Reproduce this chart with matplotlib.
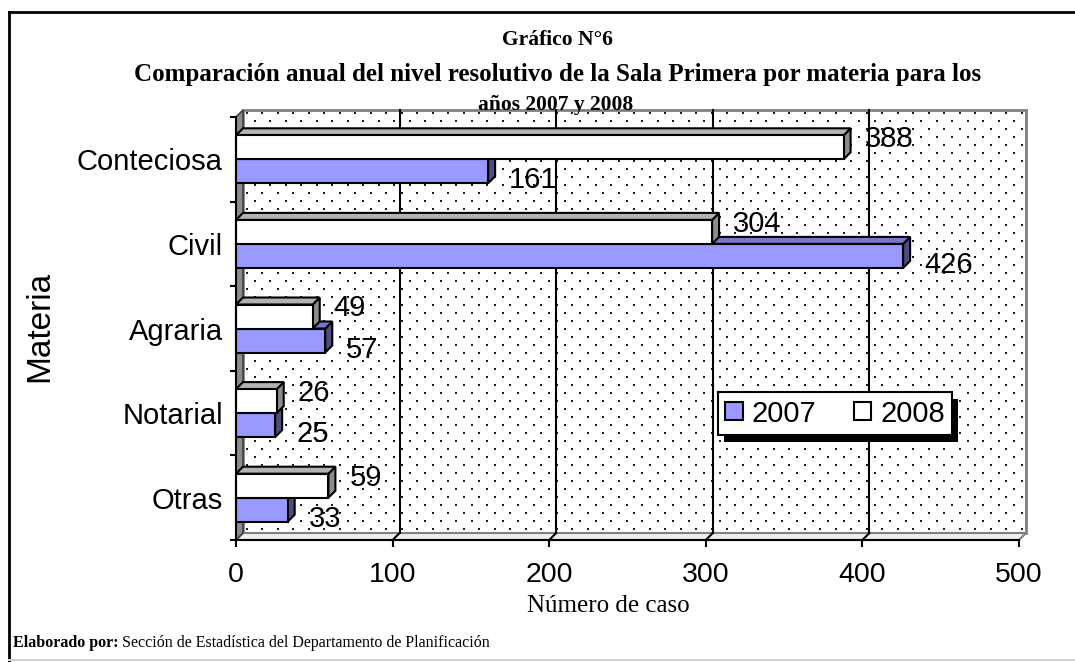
import matplotlib
matplotlib.use('Agg')
import numpy as np
import matplotlib.pyplot as plt
from matplotlib.patches import Polygon, Rectangle, Patch
from matplotlib.lines import Line2D

categories = ['Otras', 'Notarial', 'Agraria', 'Civil', 'Conteciosa']
values_2007 = [33, 25, 57, 426, 161]
values_2008 = [59, 26, 49, 304, 388]
series_names = ['2007', '2008']
x_ticks = [0, 100, 200, 300, 400, 500]

SANS = 'Liberation Sans'
SERIF = 'Liberation Serif'
plt.rcParams['font.family'] = SANS

W, H = 1075, 662
fig = plt.figure(figsize=(W / 100, H / 100), dpi=100)
fig.patch.set_facecolor('white')

L, R, B, T = 236, 1019, 540, 117
n = len(categories)
ax = fig.add_axes([L / W, 1 - B / H, (R - L) / W, (B - T) / H])
ax.set_xlim(0, 500)
ax.set_ylim(-0.5, n - 0.5)
ax.patch.set_visible(False)

ppx = (R - L) / 500.0
ppy = (B - T) / n
DEPTH = 7
dx = DEPTH / ppx
dy = DEPTH / ppy
bar_h = 24 / ppy

ymin, ymax = -0.5, n - 0.5
# back wall with dotted pattern
ax.add_patch(Rectangle((dx, ymin + dy), 500, n, facecolor='white', edgecolor='none',
                       zorder=1, clip_on=False))
sx, sy = 15.5 / ppx, 8.0 / ppy
rows = np.arange(ymin + dy + sy / 2, ymax + dy, sy)
px, py = [], []
for k, yy in enumerate(rows):
    xs = np.arange(dx + (sx / 2 if k % 2 else 0) + sx / 4, 500 + dx, sx)
    px.extend(xs)
    py.extend([yy] * len(xs))
ax.scatter(px, py, s=1.6, marker='s', color='#1a1a1a', lw=0, zorder=1.2, clip_on=False)
ax.add_patch(Rectangle((dx, ymin + dy), 500, n, facecolor='none', edgecolor='#808080',
                       lw=2, zorder=1.5, clip_on=False))
# floor
floor = [(0, ymin), (500, ymin), (500 + dx, ymin + dy), (dx, ymin + dy)]
ax.add_patch(Polygon(floor, closed=True, facecolor='#eeeeee', edgecolor='#808080', lw=1.5,
                     zorder=1.6, clip_on=False))
# gridlines
for xv in x_ticks[1:-1]:
    ax.add_line(Line2D([xv + dx, xv + dx], [ymin + dy, ymax + dy], color='black', lw=1.5,
                       zorder=2, clip_on=False))
    ax.add_line(Line2D([xv, xv + dx], [ymin, ymin + dy], color='black', lw=1.5,
                       zorder=2, clip_on=False))
# left wall
lw_poly = [(0, ymin), (dx, ymin + dy), (dx, ymax + dy), (0, ymax)]
ax.add_patch(Polygon(lw_poly, closed=True, facecolor='#8c8c8c', edgecolor='#404040', lw=1.2,
                     zorder=2.2, clip_on=False))


def bar3d(y0, v, front, top, side, z):
    kw = dict(edgecolor='black', lw=1.5, clip_on=False, zorder=z, joinstyle='miter')
    ax.add_patch(Polygon([(v, y0), (v + dx, y0 + dy), (v + dx, y0 + bar_h + dy), (v, y0 + bar_h)],
                         closed=True, facecolor=side, **kw))
    ax.add_patch(Polygon([(0, y0 + bar_h), (v, y0 + bar_h), (v + dx, y0 + bar_h + dy), (dx, y0 + bar_h + dy)],
                         closed=True, facecolor=top, **kw))
    ax.add_patch(Rectangle((0, y0), v, bar_h, facecolor=front, **kw))


PT = 72 / 100.0
for i in range(n):
    v7, v8 = values_2007[i], values_2008[i]
    bar3d(i - bar_h, v7, '#9999ff', '#7777cc', '#4d4d80', 3)
    bar3d(i, v8, 'white', '#b3b3b3', '#8c8c8c', 4)
    ax.annotate(str(v8), xy=(v8 + dx, i + bar_h / 2), xytext=(14 * PT, 8 * PT),
                textcoords='offset points', ha='left', va='center', fontsize=21, zorder=6)
    ax.annotate(str(v7), xy=(v7 + dx, i - bar_h / 2), xytext=(14 * PT, -9 * PT),
                textcoords='offset points', ha='left', va='center', fontsize=21, zorder=6)

# axes
for s in ['top', 'right']:
    ax.spines[s].set_visible(False)
for s in ['left', 'bottom']:
    ax.spines[s].set_linewidth(1.5)
    ax.spines[s].set_zorder(8)
ax.set_xticks(x_ticks)
ax.set_xticklabels([str(t) for t in x_ticks], fontsize=20.5)
ax.tick_params(axis='x', direction='out', length=5, width=1.5, pad=11)
ax.set_yticks(range(n))
ax.set_yticklabels(categories, fontsize=21)
ax.tick_params(axis='y', length=0, pad=9.5)
ax.set_yticks([k - 0.5 for k in range(n + 1)], minor=True)
ax.tick_params(axis='y', which='minor', length=4, width=1.5, direction='out')

# titles
fig.text(557 / W, 1 - 40 / H, 'Gráfico N°6', ha='center', va='center', family=SERIF,
         fontweight='bold', fontsize=15.5)
fig.text(558 / W, 1 - 74 / H,
         'Comparación anual del nivel resolutivo de la Sala Primera por materia para los',
         ha='center', va='center', family=SERIF, fontweight='bold', fontsize=18)
fig.text(556 / W, 1 - 105 / H, 'años 2007 y 2008', ha='center', va='center', family=SERIF,
         fontweight='bold', fontsize=15.5)
fig.text(608 / W, 1 - 606 / H, 'Número de caso', ha='center', va='center', family=SERIF,
         fontsize=18)
fig.text(40 / W, 1 - 326 / H, 'Materia', ha='center', va='center', rotation=90, fontsize=24)

# legend
handles = [Patch(facecolor='#9999ff', edgecolor='black', lw=1.5),
           Patch(facecolor='white', edgecolor='black', lw=1.5)]
leg = fig.legend(handles, series_names, ncol=2, loc='center',
                 bbox_to_anchor=((712 + 958) / 2 / W, 1 - (393 + 434) / 2 / H),
                 frameon=True, fancybox=False, edgecolor='black', facecolor='white',
                 framealpha=1, fontsize=21,
                 handlelength=0.6, handleheight=0.6, columnspacing=1.3, handletextpad=0.3,
                 borderpad=0.25, borderaxespad=0)
leg.get_frame().set_linewidth(1.5)
leg.set_zorder(10)

# footer
t1 = fig.text(13 / W, 1 - 643 / H, 'Elaborado por:', ha='left', va='center', family=SERIF,
              fontweight='bold', fontsize=11.5)
fig.canvas.draw()
r = fig.canvas.get_renderer()
bb = t1.get_window_extent(r)
fig.text((bb.x1 + 3) / W, 1 - 643 / H,
         'Sección de Estadística del Departamento de Planificación', ha='left', va='center',
         family=SERIF, fontsize=11.5)
lb = leg.get_window_extent(r)
fig.add_artist(Rectangle(((lb.x0 + 6) / W, (lb.y0 - 7) / H), lb.width / W, lb.height / H,
                         transform=fig.transFigure, facecolor='black', edgecolor='none',
                         zorder=9))

# outer frame
fig.add_artist(Line2D([9 / W, 9 / W], [1 - 12 / H, 0], color='black', lw=2))
fig.add_artist(Line2D([9 / W, 1], [1 - 12 / H, 1 - 12 / H], color='black', lw=2))
fig.add_artist(Line2D([9 / W, 1], [1 - 660 / H, 1 - 660 / H], color='#d0d0d0', lw=1.5))

fig.savefig('out.png', dpi=100)
